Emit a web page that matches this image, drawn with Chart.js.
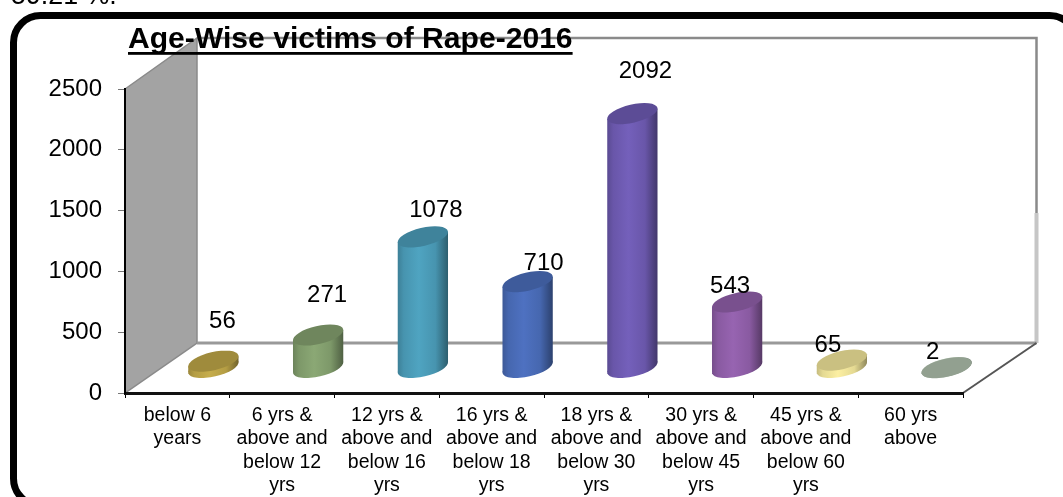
<!DOCTYPE html>
<html>
<head>
<meta charset="utf-8">
<style>html,body{margin:0;padding:0;background:#fff;overflow:hidden}canvas{display:block}</style>
<script src="https://cdn.jsdelivr.net/npm/chart.js@4"></script>
</head>
<body>
<canvas id="c" width="1063" height="497"></canvas>
<script>
const categories = [
  ['below 6','years'],
  ['6 yrs &','above and','below 12','yrs'],
  ['12 yrs &','above and','below 16','yrs'],
  ['16 yrs &','above and','below 18','yrs'],
  ['18 yrs &','above and','below 30','yrs'],
  ['30 yrs &','above and','below 45','yrs'],
  ['45 yrs &','above and','below 60','yrs'],
  ['60 yrs','above']
];
const victims = [56, 271, 1078, 710, 2092, 543, 65, 2];
const barColors = ['#bda548','#84a06f','#4b9cb8','#4a6cb8','#6e5bb2','#905fa9','#f0e49a','#aebfac'];
const yTicks = [0, 500, 1000, 1500, 2000, 2500];
const chartTitle = 'Age-Wise victims of Rape-2016';
const clippedCaption = '59.21 %.';

const FONT = '"Liberation Sans", Arial, sans-serif';
const DEPTH_X = 72, DEPTH_Y = 50;

function shade(hex, f) {
  const n = parseInt(hex.slice(1), 16);
  const c = [n >> 16 & 255, n >> 8 & 255, n & 255].map(v => Math.min(255, Math.round(v * f)));
  return `rgb(${c[0]},${c[1]},${c[2]})`;
}

// Bars are the library's own elements, shaded as skewed cylinders standing on the floor.
Chart.BarElement.prototype.draw = function (ctx) {
  const { x, y, base, width } = this.getProps(['x', 'y', 'base', 'width'], true);
  const color = this.options.backgroundColor;
  const cx = x + DEPTH_X / 2, yTop = y - DEPTH_Y / 2, yBase = base - DEPTH_Y / 2;
  const w = width / 2, rx = w * 1.023, ry = w * 0.36, rot = -13 * Math.PI / 180;
  const tip = w * 0.2;
  ctx.save();
  const g = ctx.createLinearGradient(cx - w, 0, cx + w, 0);
  g.addColorStop(0, shade(color, 0.82));
  g.addColorStop(0.12, shade(color, 0.95));
  g.addColorStop(0.42, shade(color, 1.05));
  g.addColorStop(0.75, shade(color, 0.95));
  g.addColorStop(1, shade(color, 0.6));
  ctx.fillStyle = g;
  ctx.beginPath();
  ctx.ellipse(cx, yBase, rx, ry, rot, 0, Math.PI * 2);
  ctx.fill();
  ctx.beginPath();
  ctx.moveTo(cx - w, yTop + tip);
  ctx.lineTo(cx + w, yTop - tip);
  ctx.lineTo(cx + w, yBase - tip);
  ctx.lineTo(cx - w, yBase + tip);
  ctx.closePath();
  ctx.fill();
  ctx.fillStyle = shade(color, 0.84);
  ctx.beginPath();
  ctx.ellipse(cx, yTop, rx, ry, rot, 0, Math.PI * 2);
  ctx.fill();
  ctx.restore();
};

const room = {
  id: 'room',
  beforeDraw(chart) {
    const { ctx, scales: { x, y } } = chart;
    const L = x.left, R = x.right, T = y.top, B = y.bottom;
    const bx = L + DEPTH_X, rx = R + DEPTH_X + 1.5, tY = T - DEPTH_Y - 1, fY = B - DEPTH_Y;
    const splitY = 213;
    ctx.save();
    ctx.fillStyle = '#fff';
    ctx.fillRect(0, 0, chart.width, chart.height);
    // frame
    ctx.strokeStyle = '#000';
    ctx.lineWidth = 7;
    ctx.beginPath();
    ctx.roundRect(13.5, 15.5, 1063, 490, 27);
    ctx.stroke();
    // caption clipped by the top edge
    ctx.fillStyle = '#000';
    ctx.font = '26.8px ' + FONT;
    ctx.textAlign = 'left';
    ctx.textBaseline = 'alphabetic';
    ctx.fillText(clippedCaption, 11, 4);
    // left wall
    ctx.fillStyle = '#a3a3a3';
    ctx.beginPath();
    ctx.moveTo(L, T); ctx.lineTo(bx, tY); ctx.lineTo(bx, fY); ctx.lineTo(L, B);
    ctx.closePath();
    ctx.fill();
    ctx.strokeStyle = '#8a8a8a';
    ctx.lineWidth = 1.5;
    ctx.stroke();
    // back wall outline
    ctx.lineWidth = 2.5;
    ctx.beginPath();
    ctx.moveTo(bx, tY); ctx.lineTo(rx, tY); ctx.lineTo(rx, splitY);
    ctx.stroke();
    ctx.strokeStyle = '#c6c6c6';
    ctx.lineWidth = 4;
    ctx.beginPath();
    ctx.moveTo(rx, splitY); ctx.lineTo(rx, fY);
    ctx.stroke();
    ctx.strokeStyle = '#999';
    ctx.lineWidth = 3;
    ctx.beginPath();
    ctx.moveTo(bx, fY); ctx.lineTo(rx, fY);
    ctx.stroke();
    // floor edge
    ctx.strokeStyle = '#555';
    ctx.lineWidth = 2;
    ctx.beginPath();
    ctx.moveTo(R, B); ctx.lineTo(rx, fY);
    ctx.stroke();
    ctx.restore();
  }
};

const annotations = {
  id: 'annotations',
  afterDraw(chart, args, opts) {
    const { ctx } = chart;
    const meta = chart.getDatasetMeta(0);
    ctx.save();
    ctx.fillStyle = '#000';
    ctx.textAlign = 'center';
    ctx.textBaseline = 'middle';
    ctx.font = '24px ' + FONT;
    meta.data.forEach((el, i) => {
      ctx.fillText(String(victims[i]), el.x + opts.shiftX[i], el.y + opts.shiftY[i]);
    });
    ctx.textAlign = 'left';
    ctx.textBaseline = 'alphabetic';
    ctx.font = 'bold 30.1px ' + FONT;
    ctx.fillText(chartTitle, opts.titleX, opts.titleY);
    const w = ctx.measureText(chartTitle).width;
    ctx.fillRect(opts.titleX, opts.titleY + 4, w, 2.8);
    ctx.restore();
  }
};

new Chart(document.getElementById('c'), {
  type: 'bar',
  data: {
    labels: categories,
    datasets: [{
      label: 'Age-Wise victims of Rape-2016',
      data: victims,
      backgroundColor: barColors,
      barPercentage: 0.48,
      categoryPercentage: 1,
      clip: false
    }]
  },
  options: {
    responsive: false,
    animation: false,
    layout: { padding: { top: 89, right: 100, left: 0, bottom: 0 } },
    plugins: {
      legend: { display: false },
      title: { display: false },
      tooltip: { enabled: false },
      annotations: {
        shiftX: [45, 45, 49, 52, 49, 29, 22, 22],
        shiftY: [-65, -65, -52, -43, -67, -41, -40, -40],
        titleX: 128,
        titleY: 48
      }
    },
    scales: {
      x: {
        afterFit(s) { s.height = 104; },
        grid: { drawOnChartArea: false, drawTicks: true, tickLength: 5, color: '#000', offset: true },
        border: { color: '#111', width: 3 },
        ticks: {
          color: '#000',
          maxRotation: 0,
          minRotation: 0,
          autoSkip: false,
          padding: 6,
          font: { family: FONT, size: 19.5, lineHeight: '23.4px' }
        }
      },
      y: {
        min: 0,
        max: 2500,
        afterFit(s) { s.width = 125; },
        afterBuildTicks(s) { s.ticks = yTicks.map(v => ({ value: v })); },
        grid: { drawOnChartArea: false, drawTicks: true, tickLength: 7, color: '#777' },
        border: { color: '#000', width: 2 },
        ticks: {
          color: '#000',
          padding: 16,
          callback: v => String(v),
          font: { family: FONT, size: 24 }
        }
      }
    }
  },
  plugins: [room, annotations]
});
</script>
</body>
</html>
